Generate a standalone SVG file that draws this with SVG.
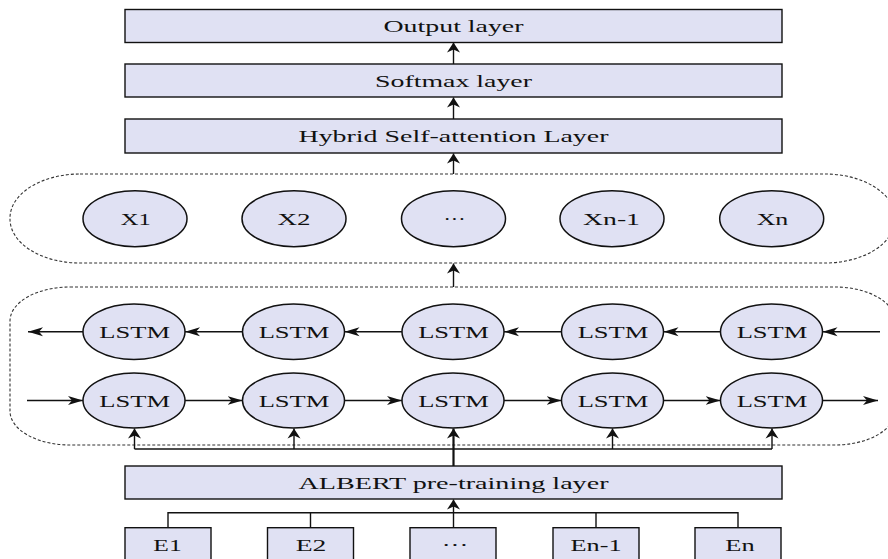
<svg xmlns="http://www.w3.org/2000/svg" width="888" height="559" viewBox="0 0 888 559">
<style>
.box{fill:#e0e1f3;stroke:#111;stroke-width:1.4}
.node{fill:#e0e1f3;stroke:#111;stroke-width:1.5}
.cont{fill:none;stroke:#333;stroke-width:1.1;stroke-dasharray:3 2}
.t{font-family:"Liberation Serif","Times New Roman",serif;font-size:17px;fill:#111;text-anchor:middle}
.l{font-size:17px}
.c{fill:none;stroke:#111;stroke-width:1.4}
.ch{marker-end:url(#ah)}
.cv{marker-end:url(#av)}
</style>
<defs>
<marker id="ah" markerUnits="userSpaceOnUse" markerWidth="17" markerHeight="11" viewBox="0 -5.5 17 11" refX="15" refY="0" orient="auto"><path d="M0,-4.5 L15,0 L0,4.5 L4,0 Z" fill="#111"/></marker>
<marker id="av" markerUnits="userSpaceOnUse" markerWidth="11" markerHeight="15" viewBox="0 -7.5 11 15" refX="10" refY="0" orient="auto"><path d="M0,-6.5 L10,0 L0,6.5 L3,0 Z" fill="#111"/></marker>
</defs>

<g id="containers">
<rect class="cont" x="10" y="174" width="885" height="89" rx="70" ry="44"/>
<rect class="cont" x="10" y="287" width="885" height="158" rx="60" ry="34"/>
</g>

<g id="output"><rect class="box" x="125" y="9.5" width="657" height="33"/><text class="t" x="453.5" y="31.5" textLength="140" lengthAdjust="spacingAndGlyphs">Output layer</text></g>
<g id="softmax"><rect class="box" x="125" y="64" width="657" height="33"/><text class="t" x="453.5" y="86.5" textLength="157" lengthAdjust="spacingAndGlyphs">Softmax layer</text></g>
<g id="attention"><rect class="box" x="125" y="119" width="657" height="34"/><text class="t" x="453.5" y="141.5" textLength="310" lengthAdjust="spacingAndGlyphs">Hybrid Self-attention Layer</text></g>

<g id="x1"><ellipse class="node" cx="135" cy="218.7" rx="52" ry="28"/><text class="t l" x="135.7" y="224.5" textLength="30" lengthAdjust="spacingAndGlyphs">X1</text></g>
<g id="x2"><ellipse class="node" cx="294" cy="218.7" rx="52" ry="28"/><text class="t l" x="294" y="224.5" textLength="33" lengthAdjust="spacingAndGlyphs">X2</text></g>
<g id="xdots"><ellipse class="node" cx="453.5" cy="218.7" rx="52" ry="28"/><text class="t l" x="454.5" y="224.5" textLength="22" lengthAdjust="spacingAndGlyphs">···</text></g>
<g id="xn1"><ellipse class="node" cx="612" cy="218.7" rx="52" ry="28"/><text class="t l" x="611.5" y="224.5" textLength="57" lengthAdjust="spacingAndGlyphs">Xn-1</text></g>
<g id="xn"><ellipse class="node" cx="771.7" cy="218.7" rx="52" ry="28"/><text class="t l" x="772.5" y="224.5" textLength="31.7" lengthAdjust="spacingAndGlyphs">Xn</text></g>

<g id="lstm-b1"><ellipse class="node" cx="134" cy="331.7" rx="51" ry="27.7"/><text class="t l" x="134.7" y="337.8" textLength="70.7" lengthAdjust="spacingAndGlyphs">LSTM</text></g>
<g id="lstm-b2"><ellipse class="node" cx="293.5" cy="331.7" rx="51" ry="27.7"/><text class="t l" x="294" y="337.8" textLength="70.7" lengthAdjust="spacingAndGlyphs">LSTM</text></g>
<g id="lstm-b3"><ellipse class="node" cx="453" cy="331.7" rx="51" ry="27.7"/><text class="t l" x="453.5" y="337.8" textLength="70.7" lengthAdjust="spacingAndGlyphs">LSTM</text></g>
<g id="lstm-b4"><ellipse class="node" cx="612.5" cy="331.7" rx="51" ry="27.7"/><text class="t l" x="613" y="337.8" textLength="70.7" lengthAdjust="spacingAndGlyphs">LSTM</text></g>
<g id="lstm-b5"><ellipse class="node" cx="771.5" cy="331.7" rx="51" ry="27.7"/><text class="t l" x="772" y="337.8" textLength="70.7" lengthAdjust="spacingAndGlyphs">LSTM</text></g>

<g id="lstm-f1"><ellipse class="node" cx="134" cy="400.5" rx="51" ry="27.5"/><text class="t l" x="134.7" y="406.5" textLength="70.7" lengthAdjust="spacingAndGlyphs">LSTM</text></g>
<g id="lstm-f2"><ellipse class="node" cx="293.5" cy="400.5" rx="51" ry="27.5"/><text class="t l" x="294" y="406.5" textLength="70.7" lengthAdjust="spacingAndGlyphs">LSTM</text></g>
<g id="lstm-f3"><ellipse class="node" cx="453" cy="400.5" rx="51" ry="27.5"/><text class="t l" x="453.5" y="406.5" textLength="70.7" lengthAdjust="spacingAndGlyphs">LSTM</text></g>
<g id="lstm-f4"><ellipse class="node" cx="612.5" cy="400.5" rx="51" ry="27.5"/><text class="t l" x="613" y="406.5" textLength="70.7" lengthAdjust="spacingAndGlyphs">LSTM</text></g>
<g id="lstm-f5"><ellipse class="node" cx="771.5" cy="400.5" rx="51" ry="27.5"/><text class="t l" x="772" y="406.5" textLength="70.7" lengthAdjust="spacingAndGlyphs">LSTM</text></g>

<g id="albert"><rect class="box" x="125" y="466" width="657" height="33"/><text class="t" x="453.5" y="488.5" textLength="310" lengthAdjust="spacingAndGlyphs">ALBERT pre-training layer</text></g>

<g id="e1"><rect class="box" x="125" y="527.7" width="86" height="40"/><text class="t" x="167.5" y="550.5" textLength="28.3" lengthAdjust="spacingAndGlyphs">E1</text></g>
<g id="e2"><rect class="box" x="267.5" y="527.7" width="86" height="40"/><text class="t" x="311" y="550.5" textLength="30.7" lengthAdjust="spacingAndGlyphs">E2</text></g>
<g id="edots"><rect class="box" x="410" y="527.7" width="86" height="40"/><text class="t" x="455" y="550.5" textLength="26.5" lengthAdjust="spacingAndGlyphs">···</text></g>
<g id="en1"><rect class="box" x="553" y="527.7" width="86" height="40"/><text class="t" x="596" y="550.5" textLength="51" lengthAdjust="spacingAndGlyphs">En-1</text></g>
<g id="en"><rect class="box" x="695" y="527.7" width="86" height="40"/><text class="t" x="740" y="550.5" textLength="29.3" lengthAdjust="spacingAndGlyphs">En</text></g>

<g id="connectors">
<line class="c cv" x1="453.5" y1="64" x2="453.5" y2="42.5"/>
<line class="c cv" x1="453.5" y1="119" x2="453.5" y2="97.5"/>
<line class="c cv" x1="453.5" y1="174" x2="453.5" y2="153.5"/>
<line class="c cv" x1="453.5" y1="287" x2="453.5" y2="263.5"/>

<line class="c ch" x1="83" y1="331.7" x2="28" y2="331.7"/>
<line class="c ch" x1="242.5" y1="331.7" x2="185" y2="331.7"/>
<line class="c ch" x1="402" y1="331.7" x2="344.5" y2="331.7"/>
<line class="c ch" x1="561.5" y1="331.7" x2="504" y2="331.7"/>
<line class="c ch" x1="720.5" y1="331.7" x2="663.5" y2="331.7"/>
<line class="c ch" x1="880" y1="331.7" x2="822.5" y2="331.7"/>

<line class="c ch" x1="27" y1="400.5" x2="83" y2="400.5"/>
<line class="c ch" x1="185" y1="400.5" x2="242.5" y2="400.5"/>
<line class="c ch" x1="344.5" y1="400.5" x2="402" y2="400.5"/>
<line class="c ch" x1="504" y1="400.5" x2="561.5" y2="400.5"/>
<line class="c ch" x1="663.5" y1="400.5" x2="720.5" y2="400.5"/>
<line class="c ch" x1="822.5" y1="400.5" x2="878" y2="400.5"/>

<path class="c" d="M134.5,449 H772"/>
<line class="c cv" x1="134.5" y1="449" x2="134.5" y2="428.5"/>
<line class="c cv" x1="294" y1="449" x2="294" y2="428.5"/>
<line class="c cv" x1="453.5" y1="466" x2="453.5" y2="428.5" style="stroke-width:2.2"/>
<line class="c cv" x1="612.5" y1="449" x2="612.5" y2="428.5"/>
<line class="c cv" x1="772" y1="449" x2="772" y2="428.5"/>

<path class="c" d="M168,527.7 V512.7 H738 V527.7 M310.5,512.7 V527.7 M596,512.7 V527.7"/>
<line class="c cv" x1="453.5" y1="527.7" x2="453.5" y2="499.5"/>
</g>
</svg>
